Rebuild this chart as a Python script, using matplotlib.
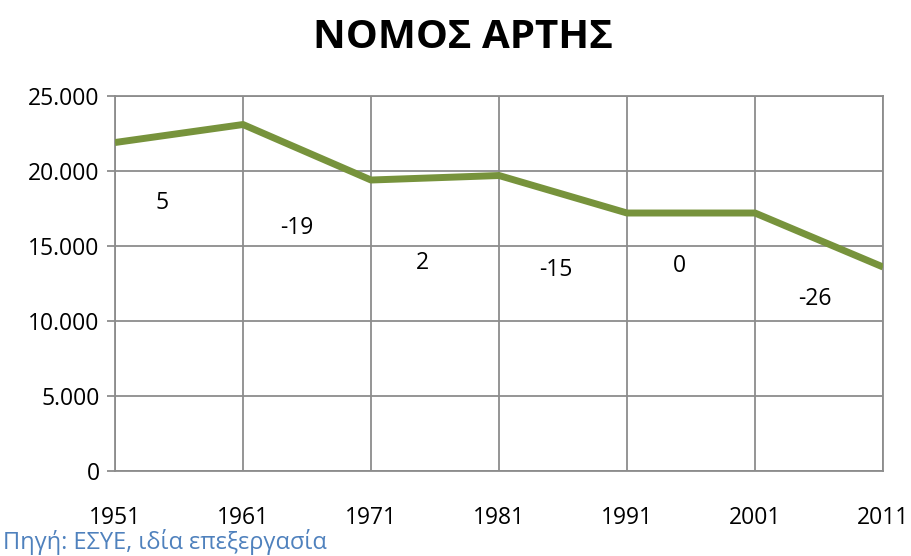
import matplotlib
matplotlib.use("Agg")
import matplotlib.pyplot as plt
from matplotlib.ticker import FuncFormatter

plt.rcParams['font.family'] = ['Open Sans', 'DejaVu Sans']

years = [1951, 1961, 1971, 1981, 1991, 2001, 2011]
population = [21900, 23100, 19400, 19700, 17200, 17200, 13600]
change_labels = ['5', '-19', '2', '-15', '0', '-26']
# where the change labels sit (x in years, y in persons)
label_x = [1954.7, 1965.2, 1975.0, 1985.4, 1995.1, 2005.7]
label_y = [17900, 16200, 13900, 13400, 13700, 11500]

fig = plt.figure(figsize=(9.11, 5.56), dpi=100)
ax = fig.add_axes([0.1262, 0.1529, 0.8431, 0.6744])

grid_col = '#8c8c8c'
ax.plot(years, population, color='#77933C', linewidth=5, solid_capstyle='butt', zorder=3)

for txt, x, y in zip(change_labels, label_x, label_y):
    ax.text(x, y, txt, fontsize=16.5, ha='center', va='center', color='black')

ax.set_xlim(1951, 2011)
ax.set_ylim(0, 25000)
ax.set_xticks(years)
ax.set_yticks(range(0, 25001, 5000))
ax.yaxis.set_major_formatter(FuncFormatter(lambda v, p: f"{int(v):,}".replace(',', '.')))
ax.grid(True, color=grid_col, linewidth=1.3)
for s in ax.spines.values():
    s.set_color(grid_col)
    s.set_linewidth(1.3)
ax.tick_params(axis='y', length=6, color=grid_col, width=1.3, labelsize=16.5, pad=5)
ax.tick_params(axis='x', length=0, labelsize=16.5, pad=25)

fig.text(0.508, 0.932, 'ΝΟΜΟΣ ΑΡΤΗΣ', fontsize=29, fontweight='bold', ha='center', va='center')
fig.text(0.003, 0.025, 'Πηγή: ΕΣΥΕ, ιδία επεξεργασία', fontsize=17, color='#4F81BD', ha='left', va='center')

fig.savefig('out.png', dpi=100)
